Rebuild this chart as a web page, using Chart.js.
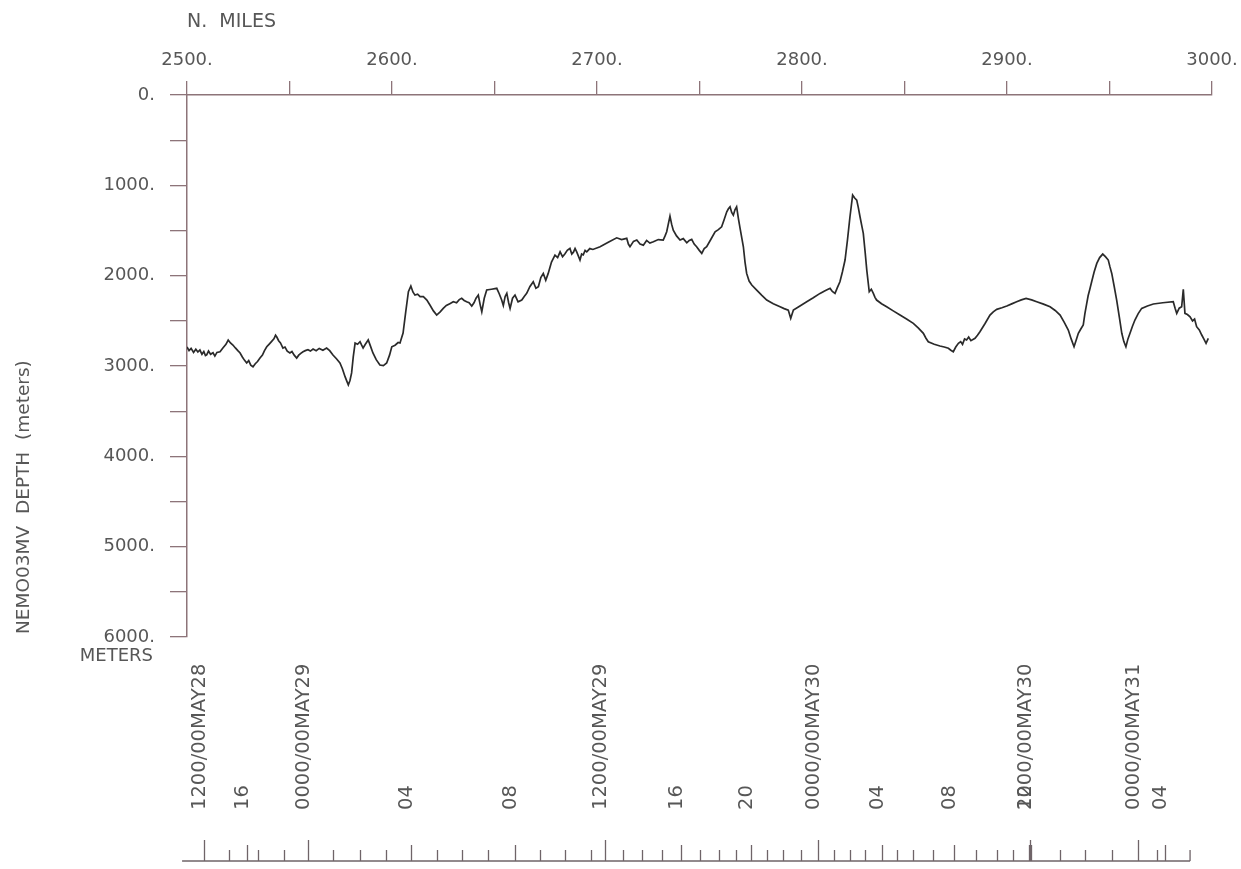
<!DOCTYPE html>
<html>
<head>
<meta charset="utf-8">
<title>NEMO03MV depth profile</title>
<script src="https://cdn.jsdelivr.net/npm/chart.js@4.4.1/dist/chart.umd.min.js"></script>
<style>
  html, body { margin: 0; padding: 0; background: #ffffff; }
  canvas { display: block; }
</style>
</head>
<body>
<canvas id="profile" width="1241" height="869"></canvas>
<script>
// Along-track distance (nautical miles) and bathymetric depth (metres)
const miles = [
  2500.0, 2501.0, 2502.0, 2503.2, 2504.3, 2505.3, 2506.3, 2507.3, 2508.2, 2509.0,
  2509.6, 2510.5, 2511.5, 2512.7, 2513.6, 2514.6, 2516.1, 2517.5, 2519.0, 2520.1,
  2521.2, 2522.4, 2523.6, 2524.8, 2525.9, 2527.0, 2528.0, 2529.1, 2530.1, 2531.1,
  2532.2, 2533.3, 2534.4, 2535.6, 2536.8, 2537.8, 2538.9, 2540.0, 2541.2, 2542.4,
  2543.2, 2543.8, 2544.7, 2545.6, 2546.8, 2547.8, 2548.9, 2550.2, 2551.2, 2552.3,
  2553.5, 2554.5, 2555.5, 2556.6, 2557.7, 2559.0, 2560.2, 2561.5, 2563.0, 2564.5,
  2566.3, 2568.1, 2569.6, 2571.2, 2572.9, 2574.6, 2575.8, 2577.1, 2578.0, 2578.7,
  2579.5, 2580.3, 2581.1, 2582.0, 2583.2, 2584.4, 2585.2, 2585.9, 2587.0, 2588.4,
  2589.5, 2590.7, 2592.3, 2594.1, 2595.8, 2597.4, 2598.8, 2599.9, 2601.5, 2603.0,
  2603.9, 2605.4, 2606.7, 2608.0, 2609.2, 2610.2, 2611.2, 2612.5, 2613.7, 2615.3,
  2617.0, 2618.5, 2620.2, 2621.8, 2623.5, 2625.0, 2626.5, 2628.2, 2629.9, 2631.5,
  2632.8, 2634.0, 2635.2, 2636.4, 2637.6, 2638.9, 2640.0, 2641.0, 2642.1, 2643.0,
  2643.8, 2645.0, 2646.2, 2648.5, 2651.1, 2652.3, 2653.5, 2654.3, 2655.2, 2656.0,
  2656.9, 2657.6, 2658.8, 2660.0, 2661.5, 2663.3, 2664.5, 2665.7, 2667.3, 2668.9,
  2670.2, 2671.4, 2672.6, 2673.8, 2675.0, 2676.2, 2677.8, 2679.5, 2680.8, 2682.0,
  2683.2, 2684.3, 2685.5, 2686.8, 2687.7, 2688.5, 2689.3, 2690.1, 2691.7, 2692.5,
  2693.3, 2694.2, 2695.0, 2696.5, 2698.0, 2701.5, 2705.5,
  2709.6, 2712.0, 2714.5, 2715.3, 2716.1, 2717.8, 2719.4, 2721.0, 2722.6, 2724.2,
  2725.8, 2727.5, 2729.9, 2732.3, 2733.2, 2734.0, 2735.6, 2736.4, 2737.2, 2738.8,
  2740.5, 2742.1, 2743.8, 2745.0, 2746.2, 2747.4, 2748.6, 2749.9, 2751.1, 2752.3,
  2753.5, 2755.5, 2757.6, 2759.2, 2760.8, 2762.0, 2763.3, 2764.1, 2764.9, 2765.7,
  2766.5, 2767.3, 2768.1, 2769.0, 2769.8, 2770.6, 2771.4, 2772.2, 2773.0, 2774.2,
  2775.5, 2777.9, 2780.3, 2782.8, 2786.0, 2789.3, 2791.3, 2793.3, 2794.5, 2795.8,
  2799.0, 2802.3, 2805.5, 2808.8, 2811.0, 2812.7, 2813.7, 2814.8, 2816.1, 2817.3,
  2818.5, 2819.7, 2821.0, 2822.2, 2823.4, 2824.7, 2825.7, 2826.7, 2827.5, 2828.3,
  2829.1, 2829.9, 2830.8, 2831.6, 2832.8, 2833.8, 2834.8, 2835.6, 2836.4, 2838.8,
  2841.3, 2844.5, 2847.8, 2851.0, 2854.3, 2856.8, 2859.2, 2860.4, 2861.6, 2864.5,
  2867.3, 2869.4, 2871.4, 2872.6, 2873.8, 2875.0, 2876.3, 2877.4, 2878.3, 2879.3,
  2880.3, 2881.3, 2882.4, 2884.4, 2885.6, 2886.8, 2889.3, 2891.7, 2893.3, 2895.0,
  2897.5, 2899.9, 2902.3, 2904.7, 2907.0, 2909.3, 2912.0, 2914.5, 2917.8, 2921.0,
  2923.5, 2925.9, 2928.0, 2929.9, 2931.3, 2932.7, 2933.8, 2934.8, 2936.0, 2937.2,
  2938.0, 2938.9, 2939.6, 2940.4, 2941.3, 2942.5, 2943.8, 2945.2, 2946.7, 2948.0,
  2949.4, 2950.2, 2951.1, 2952.3, 2953.5, 2954.8, 2956.0, 2957.0, 2958.0, 2959.0,
  2960.0, 2961.2, 2962.4, 2964.0, 2965.7, 2968.5, 2971.4, 2976.0, 2981.1, 2982.0,
  2982.8, 2984.0, 2985.2, 2986.0, 2986.8, 2988.0, 2989.3, 2990.5, 2991.5, 2992.5,
  2993.8, 2995.0, 2996.0, 2997.1, 2998.2
];
const depthMeters = [
  2790, 2830, 2805, 2850, 2815, 2845, 2823, 2870, 2840, 2885,
  2878, 2835, 2870, 2853, 2890, 2850, 2842, 2800, 2760, 2712,
  2745, 2768, 2800, 2830, 2856, 2900, 2935, 2967, 2940, 2990,
  3008, 2975, 2950, 2912, 2880, 2830, 2787, 2760, 2730, 2700,
  2660, 2679, 2720, 2745, 2801, 2790, 2835, 2856, 2840, 2880,
  2912, 2880, 2860, 2842, 2830, 2820, 2835, 2812, 2830, 2805,
  2825, 2801, 2830, 2878, 2920, 2967, 3030, 3118, 3170, 3210,
  3160, 3077, 2900, 2746, 2760, 2731, 2770, 2801, 2760, 2712,
  2780, 2856, 2930, 2989, 2995, 2967, 2880, 2787, 2770, 2740,
  2746, 2635, 2400, 2178, 2115, 2180, 2215, 2205, 2233, 2233,
  2270, 2325, 2390, 2436, 2400, 2362, 2330, 2310, 2289, 2300,
  2265, 2251, 2275, 2289, 2300, 2336, 2300, 2250, 2215, 2320,
  2399, 2250, 2159, 2150, 2140, 2200, 2270, 2330, 2230, 2196,
  2300, 2362, 2250, 2215, 2290, 2270, 2230, 2196, 2120, 2067,
  2140, 2123, 2020, 1975, 2050, 1975, 1850, 1772, 1800, 1736,
  1790, 1760, 1720, 1698, 1760, 1740, 1700, 1736, 1827, 1760,
  1770, 1720, 1736, 1700, 1710, 1680, 1630,
  1581, 1600, 1587, 1650, 1680, 1620, 1606, 1650, 1662, 1610,
  1640, 1625, 1600, 1606, 1560, 1514, 1341, 1430, 1496, 1560,
  1606, 1590, 1636, 1610, 1598, 1650, 1680, 1720, 1753, 1700,
  1680, 1600, 1514, 1490, 1459, 1380, 1293, 1260, 1238, 1300,
  1330, 1270, 1238, 1370, 1477, 1580, 1680, 1850, 1975, 2060,
  2104, 2159, 2215, 2270, 2310, 2344, 2365, 2381, 2472, 2381,
  2335, 2289, 2245, 2196, 2170, 2150, 2141, 2175, 2196, 2130,
  2067, 1960, 1827, 1600, 1348, 1108, 1140, 1164, 1250, 1348,
  1440, 1532, 1740, 1938, 2178, 2150, 2196, 2240, 2270, 2310,
  2344, 2390, 2436, 2480, 2528, 2580, 2638, 2690, 2731, 2760,
  2779, 2790, 2804, 2825, 2842, 2790, 2749, 2730, 2760, 2700,
  2712, 2680, 2720, 2694, 2660, 2621, 2530, 2436, 2400, 2373,
  2355, 2336, 2312, 2289, 2268, 2251, 2268, 2289, 2315, 2344,
  2385, 2436, 2520, 2602, 2700, 2787, 2710, 2638, 2590, 2546,
  2420, 2306, 2220, 2150, 2067, 1960, 1864, 1800, 1761, 1790,
  1827, 1900, 1975, 2120, 2270, 2460, 2638, 2730, 2787, 2700,
  2638, 2560, 2491, 2420, 2362, 2335, 2314, 2300, 2289, 2360,
  2417, 2360, 2344, 2152, 2417, 2430, 2455, 2500, 2480, 2565,
  2600, 2657, 2700, 2749, 2694
];

// Axis ranges and tick steps
const mileRange = [2500, 3000];
const mileStep = 50;
const mileLabelEvery = 100;
const depthRange = [0, 6000];
const depthStep = 500;
const depthLabelEvery = 1000;

// Ship-time track below the profile: hourly ticks placed at the distance logged at that hour.
// Rank 2 = date label, 1 = four-hour label, 0 = plain hour mark.
const timeTickMiles = [
  2508.3, 2520.5, 2529.3, 2534.6, 2547.3, 2559.0, 2571.2, 2584.4, 2597.1, 2609.3,
  2622.0, 2634.1, 2646.8, 2660.0, 2672.2, 2684.4, 2697.1, 2703.9, 2712.7, 2722.0,
  2731.7, 2741.0, 2750.2, 2759.5, 2767.8, 2775.1, 2782.9, 2790.7, 2799.5, 2807.8,
  2815.6, 2823.4, 2830.7, 2839.0, 2846.3, 2854.1, 2863.9, 2874.1, 2884.9, 2895.1,
  2902.9, 2910.6, 2910.9, 2911.2, 2911.5, 2911.8, 2925.9, 2938.0, 2951.2, 2963.9,
  2973.2, 2977.1
];
const timeTickRank = [
  2, 0, 1, 0, 0, 2, 0, 0, 0, 1,
  0, 0, 0, 1, 0, 0, 0, 2, 0, 0,
  0, 1, 0, 0, 0, 1, 0, 0, 0, 2,
  0, 0, 0, 1, 0, 0, 0, 1, 0, 0,
  0, 0, 1, 2, 1, 0, 0, 0, 0, 2,
  0, 1
];
const timeTrackEnds = [2497.6, 2989.3];
const timeLabelMiles = [
  2508.3, 2529.3, 2559.0, 2609.3, 2660.0, 2703.9, 2741.0, 2775.1,
  2807.8, 2839.0, 2874.1, 2911.2, 2911.2, 2963.9, 2977.1
];
const timeLabels = [
  '1200/00MAY28', '16', '0000/00MAY29', '04', '08', '1200/00MAY29', '16', '20',
  '0000/00MAY30', '04', '08', '1200/00MAY30', '20', '0000/00MAY31', '04'
];

const FONT = '"DejaVu Sans", "Liberation Sans", sans-serif';
const TEXT = '#575757';
const AXIS = '#8d7479';
const LINE = '#2a2a2a';

// Extra annotation layer: vertical axis caption, unit tag and the time track
const trackLayer = {
  id: 'trackLayer',
  afterDraw(chart) {
    const ctx = chart.ctx;
    const xs = chart.scales.x;
    const area = chart.chartArea;
    ctx.save();

    // depth axis caption, reading upward from the foot of the axis
    ctx.fillStyle = TEXT;
    ctx.font = '18.5px ' + FONT;
    ctx.save();
    ctx.translate(24, area.bottom - 3);
    ctx.rotate(-Math.PI / 2);
    ctx.textAlign = 'left';
    ctx.textBaseline = 'middle';
    ctx.fillText('NEMO03MV  DEPTH  (meters)', 0, 0);
    ctx.restore();

    // unit tag under the last depth label
    ctx.font = '18px ' + FONT;
    ctx.textAlign = 'right';
    ctx.textBaseline = 'middle';
    ctx.fillText('METERS', area.left - 34, area.bottom + 19);

    // time track baseline and hour marks
    const baseY = area.bottom + 224;
    const markLen = [11, 16, 21];
    ctx.strokeStyle = '#6f6468';
    ctx.lineWidth = 1.3;
    ctx.beginPath();
    const x0 = xs.getPixelForValue(timeTrackEnds[0]);
    const x1 = xs.getPixelForValue(timeTrackEnds[1]);
    ctx.moveTo(x0, baseY);
    ctx.lineTo(x1, baseY);
    ctx.moveTo(x1, baseY);
    ctx.lineTo(x1, baseY - markLen[0]);
    timeTickMiles.forEach((m, i) => {
      const px = Math.round(xs.getPixelForValue(m)) + 0.5;
      ctx.moveTo(px, baseY);
      ctx.lineTo(px, baseY - markLen[timeTickRank[i]]);
    });
    ctx.stroke();

    // hour / date labels, written upward with their baseline on the mark
    ctx.fillStyle = TEXT;
    ctx.font = '19.5px ' + FONT;
    timeLabels.forEach((txt, i) => {
      const px = xs.getPixelForValue(timeLabelMiles[i]);
      ctx.save();
      ctx.translate(px + 1, baseY - 51);
      ctx.rotate(-Math.PI / 2);
      ctx.textAlign = 'left';
      ctx.textBaseline = 'alphabetic';
      ctx.fillText(txt, 0, 0);
      ctx.restore();
    });

    ctx.restore();
  }
};

new Chart(document.getElementById('profile'), {
  type: 'line',
  data: {
    datasets: [{
      label: 'Depth',
      data: miles.map((m, i) => ({ x: m, y: depthMeters[i] })),
      borderColor: LINE,
      borderWidth: 1.7,
      pointRadius: 0,
      tension: 0,
      fill: false
    }]
  },
  options: {
    responsive: false,
    animation: false,
    devicePixelRatio: 1,
    layout: { padding: { left: 0, top: 0, right: 29, bottom: 232 } },
    plugins: { legend: { display: false }, tooltip: { enabled: false } },
    scales: {
      x: {
        type: 'linear',
        position: 'top',
        min: mileRange[0],
        max: mileRange[1],
        afterFit(scale) {
          scale.height = 95;
          scale.paddingLeft = 0;
          scale.paddingRight = 0;
        },
        grid: { drawOnChartArea: false, drawTicks: true, tickLength: 14, color: AXIS, lineWidth: 1.3 },
        border: { display: true, color: AXIS, width: 1.5 },
        ticks: {
          stepSize: mileStep,
          autoSkip: false,
          maxRotation: 0,
          padding: 10,
          color: TEXT,
          font: { family: FONT, size: 18 },
          callback: (v) => (v % mileLabelEvery === 0 ? v + '.' : '')
        },
        title: {
          display: true,
          text: 'N.  MILES',
          align: 'start',
          color: TEXT,
          font: { family: FONT, size: 19 },
          padding: { top: 11, bottom: 0 }
        }
      },
      y: {
        type: 'linear',
        position: 'left',
        reverse: true,
        min: depthRange[0],
        max: depthRange[1],
        afterFit(scale) { scale.width = 187; },
        grid: { drawOnChartArea: false, drawTicks: true, tickLength: 17, color: AXIS, lineWidth: 1.3 },
        border: { display: true, color: AXIS, width: 1.5 },
        ticks: {
          stepSize: depthStep,
          autoSkip: false,
          padding: 15,
          color: TEXT,
          font: { family: FONT, size: 18 },
          callback: (v) => (v % depthLabelEvery === 0 ? v + '.' : '')
        }
      }
    }
  },
  plugins: [trackLayer]
});
</script>
</body>
</html>
